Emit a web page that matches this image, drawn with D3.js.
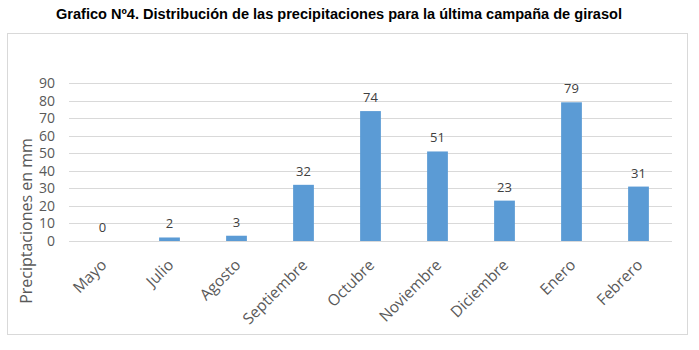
<!DOCTYPE html>
<html><head><meta charset="utf-8">
<script src="https://cdn.jsdelivr.net/npm/d3@7"></script>
<style>body{margin:0;background:#fff}</style>
</head><body>
<script>
const months = ["Mayo","Julio","Agosto","Septiembre","Octubre","Noviembre","Diciembre","Enero","Febrero"];
const precip = [0,2,3,32,74,51,23,79,31];
const yTicks = [0,10,20,30,40,50,60,70,80,90];
const title = "Grafico Nº4. Distribución de las precipitaciones para la última campaña de girasol";
const yTitle = "Preciptaciones en mm";

const W=699,H=350;
const svg=d3.select("body").append("svg").attr("width",W).attr("height",H);
svg.append("rect").attr("width",W).attr("height",H).attr("fill","#fff");
svg.append("text").attr("x",56).attr("y",19)
  .attr("font-family","Liberation Sans, Arial").attr("font-weight","bold").attr("font-size",14)
  .attr("textLength",566).attr("lengthAdjust","spacingAndGlyphs")
  .attr("fill","#000").text(title);
svg.append("rect").attr("x",7.5).attr("y",33.5).attr("width",680).attr("height",301)
  .attr("fill","none").attr("stroke","#D9D9D9");

const x=d3.scaleBand().domain(months).range([69,672]).paddingInner(0.69).paddingOuter(0.345);
const y=d3.scaleLinear().domain([0,90]).range([241,83]);

const g=svg.append("g");
g.selectAll(".grid").data(yTicks).enter().append("line")
  .attr("x1",69).attr("x2",672).attr("y1",d=>Math.round(y(d))+0.5).attr("y2",d=>Math.round(y(d))+0.5)
  .attr("stroke","#D9D9D9").attr("stroke-width",1);

const font="Open Sans, Liberation Sans, sans-serif";
const ya=svg.append("g").attr("transform","translate(69,0)")
  .call(d3.axisLeft(y).tickValues(yTicks).tickSize(0).tickPadding(14));
ya.select(".domain").remove();
ya.selectAll("text").attr("font-family",font).attr("font-size",14).attr("fill","#595959");

g.selectAll(".bar").data(precip).enter().append("rect")
  .attr("x",(d,i)=>x(months[i])).attr("width",x.bandwidth())
  .attr("y",d=>y(d)).attr("height",d=>y(0)-y(d)).attr("fill","#5B9BD5");

g.selectAll(".lbl").data(precip).enter().append("text")
  .attr("x",(d,i)=>x(months[i])+x.bandwidth()/2).attr("y",d=>y(d)-9)
  .attr("text-anchor","middle").attr("font-family",font).attr("font-size",13).attr("fill","#404040")
  .text(d=>d);

const xa=svg.append("g").attr("transform","translate(0,241)")
  .call(d3.axisBottom(x).tickSize(0).tickPadding(0));
xa.select(".domain").remove();
xa.selectAll("text").attr("font-family",font).attr("font-size",15.5).attr("fill","#595959")
  .attr("text-anchor","end").attr("dy",null).attr("y",0)
  .attr("transform","translate(5,25) rotate(-45)");

svg.append("text").attr("transform","translate(32,221) rotate(-90)")
  .attr("text-anchor","middle").attr("font-family",font).attr("font-size",16).attr("fill","#595959")
  .text(yTitle);
</script>
</body></html>
